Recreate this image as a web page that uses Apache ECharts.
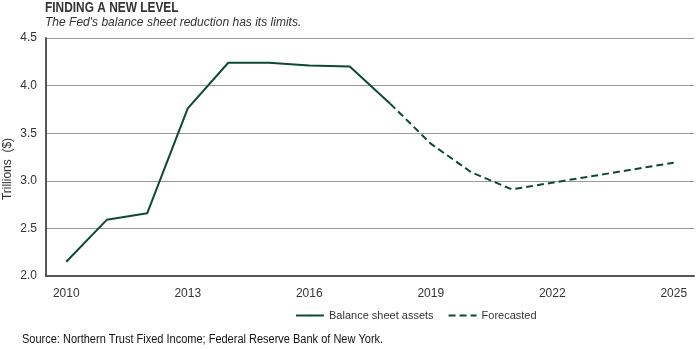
<!DOCTYPE html>
<html>
<head>
<meta charset="utf-8">
<script src="https://cdn.jsdelivr.net/npm/echarts@6/dist/echarts.min.js"></script>
<style>
  html, body { margin: 0; padding: 0; background: #fff; }
  #chart { width: 700px; height: 349px; }
</style>
</head>
<body>
<div id="chart"></div>
<script>
// Years on the category axis
var years = ['2010','2011','2012','2013','2014','2015','2016','2017','2018',
             '2019','2020','2021','2022','2023','2024','2025'];
// Fed balance sheet assets, trillions of dollars (actual)
var assets = [2.15, 2.59, 2.66, 3.76, 4.24, 4.24, 4.21, 4.20, 3.81,
              null, null, null, null, null, null, null];
// Projected path from 2018 onward
var forecast = [null, null, null, null, null, null, null, null, 3.81,
                3.39, 3.09, 2.91, 2.98, 3.05, 3.12, 3.19];
var yTicks = [2.0, 2.5, 3.0, 3.5, 4.0, 4.5];

var green = '#0b4a35';
var sans = "'Liberation Sans', Arial, sans-serif";

var chart = echarts.init(document.getElementById('chart'));
chart.setOption({
  animation: false,
  backgroundColor: '#fff',
  // Headline, subtitle and source line, horizontally condensed
  graphic: [
    {
      type: 'text', left: 45, top: 1, scaleX: 0.85,
      style: { text: 'FINDING A NEW LEVEL', font: 'bold 14px ' + sans, fill: '#333' }
    },
    {
      type: 'text', left: 45, top: 16, scaleX: 0.925,
      style: { text: "The Fed's balance sheet reduction has its limits.", font: 'italic 13px ' + sans, fill: '#333' }
    },
    {
      type: 'text', left: 22, top: 333, scaleX: 0.88,
      style: { text: 'Source: Northern Trust Fixed Income; Federal Reserve Bank of New York.', font: '12.5px ' + sans, fill: '#111' }
    }
  ],
  legend: {
    left: 290, top: 305,
    itemWidth: 28, itemHeight: 2, itemGap: 14,
    textStyle: { fontFamily: sans, fontSize: 11, color: '#333' },
    data: ['Balance sheet assets', 'Forecasted']
  },
  grid: { left: 46, right: 6, top: 38, bottom: 73, outerBoundsMode: 'none', containLabel: false },
  xAxis: {
    type: 'category',
    data: years,
    boundaryGap: true,
    axisLine: { lineStyle: { color: '#555', width: 2 } },
    axisTick: { show: false },
    axisLabel: {
      interval: 2,
      margin: 12,
      fontFamily: sans, fontSize: 12, color: '#333'
    },
    splitLine: { show: false }
  },
  yAxis: {
    type: 'value',
    min: yTicks[0], max: yTicks[yTicks.length - 1], interval: 0.5,
    name: 'Trillions  ($)',
    nameLocation: 'middle',
    nameGap: 32,
    nameMoveOverlap: false,
    nameTextStyle: { fontFamily: sans, fontSize: 12, color: '#333', padding: [0, 24, 0, 0] },
    axisLine: { show: true, lineStyle: { color: '#555', width: 2 } },
    axisTick: { show: false },
    axisLabel: {
      margin: 9,
      fontFamily: sans, fontSize: 12, color: '#333',
      formatter: function (v) { return v.toFixed(1); }
    },
    splitLine: { lineStyle: { color: '#999', width: 1 } }
  },
  series: [
    {
      name: 'Balance sheet assets',
      type: 'line',
      data: assets,
      symbol: 'none',
      connectNulls: false,
      lineStyle: { color: green, width: 2 },
      itemStyle: { color: green }
    },
    {
      name: 'Forecasted',
      type: 'line',
      data: forecast,
      symbol: 'none',
      connectNulls: false,
      lineStyle: { color: green, width: 2, type: [7, 4] },
      itemStyle: { color: green }
    }
  ]
});
</script>
</body>
</html>
